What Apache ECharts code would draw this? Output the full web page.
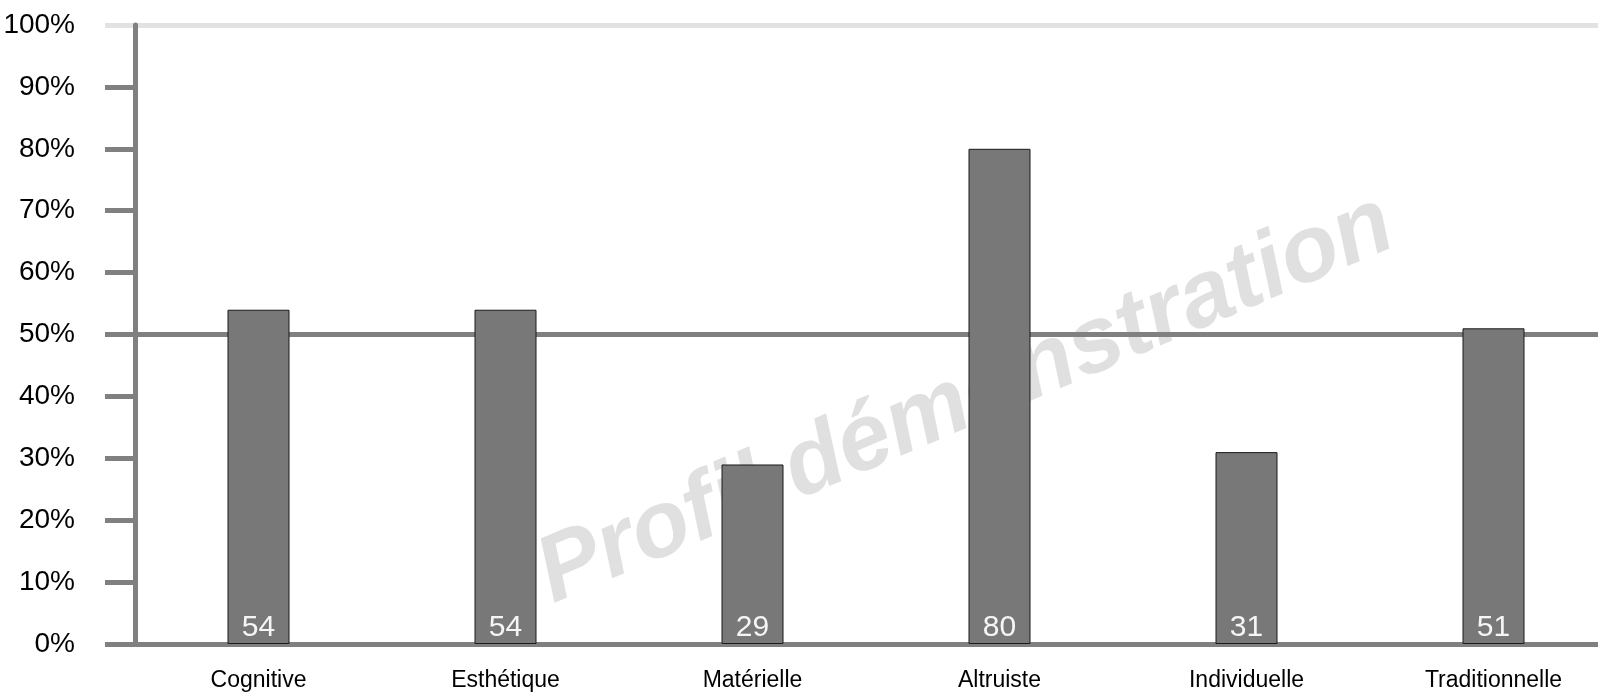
<!DOCTYPE html>
<html>
<head>
<meta charset="utf-8">
<script src="https://cdn.jsdelivr.net/npm/echarts@6/dist/echarts.min.js"></script>
<style>
html,body{margin:0;padding:0;background:#fff;}
#chart{width:1598px;height:692px;}
</style>
</head>
<body>
<div id="chart"></div>
<script>
var categories = ['Cognitive', 'Esthétique', 'Matérielle', 'Altruiste', 'Individuelle', 'Traditionnelle'];
var values = [54, 54, 29, 80, 31, 51];
var tickValues = [0, 10, 20, 30, 40, 50, 60, 70, 80, 90];
var darkRefValues = [0, 50];
var lightRefValues = [100];
var watermarkText = 'Profil démonstration';

var chart = echarts.init(document.getElementById('chart'));
var FONT = '"Liberation Sans", Arial, sans-serif';

chart.setOption({
  backgroundColor: '#ffffff',
  animation: false,
  grid: { left: 135, right: -19, top: 25, bottom: 48, containLabel: false, outerBoundsMode: 'none' },
  xAxis: {
    type: 'category',
    data: categories,
    axisLine: { show: false },
    axisTick: { show: false },
    axisLabel: { color: '#000', fontSize: 23, fontFamily: FONT, margin: 25 }
  },
  yAxis: [
    {
      type: 'value', min: 0, max: 100, interval: 10, position: 'left', offset: 0, z: 3,
      axisLine: { show: true, lineStyle: { color: '#808080', width: 5 } },
      axisTick: { show: true, length: 30, customValues: tickValues, lineStyle: { color: '#808080', width: 5 } },
      axisLabel: { formatter: '{value}%', color: '#000', fontSize: 28, fontFamily: FONT, margin: 60 },
      splitLine: { show: false }
    },
    {
      type: 'value', min: 0, max: 100, interval: 50, position: 'left', offset: 0, z: 1,
      axisLine: { show: false },
      axisTick: { show: true, length: 30, customValues: darkRefValues, lineStyle: { color: '#808080', width: 5 } },
      axisLabel: { show: false },
      splitLine: { show: true, lineStyle: { color: '#808080', width: 5 } }
    },
    {
      type: 'value', min: 0, max: 100, interval: 50, position: 'left', offset: 0, z: 1,
      axisLine: { show: false },
      axisTick: { show: true, length: 30, customValues: lightRefValues, lineStyle: { color: '#e2e2e2', width: 5 } },
      axisLabel: { show: false },
      splitLine: { show: true, lineStyle: { color: '#e2e2e2', width: 5 } }
    }
  ],
  graphic: [{
    type: 'text',
    x: 966, y: 400,
    rotation: 23 * Math.PI / 180,
    z: 0,
    silent: true,
    style: {
      text: watermarkText,
      font: 'italic bold 94px "Liberation Sans", Arial, sans-serif',
      fill: '#e0e0e0',
      textAlign: 'center',
      textVerticalAlign: 'middle'
    }
  }],
  series: [{
    type: 'bar',
    yAxisIndex: 0,
    data: values,
    barWidth: 62,
    z: 2,
    itemStyle: { color: '#787878', borderColor: '#1a1a1a', borderWidth: 1 },
    label: {
      show: true, position: 'insideBottom', distance: 1,
      color: '#f5f5f5', fontSize: 30, fontFamily: FONT
    }
  }]
});
</script>
</body>
</html>
